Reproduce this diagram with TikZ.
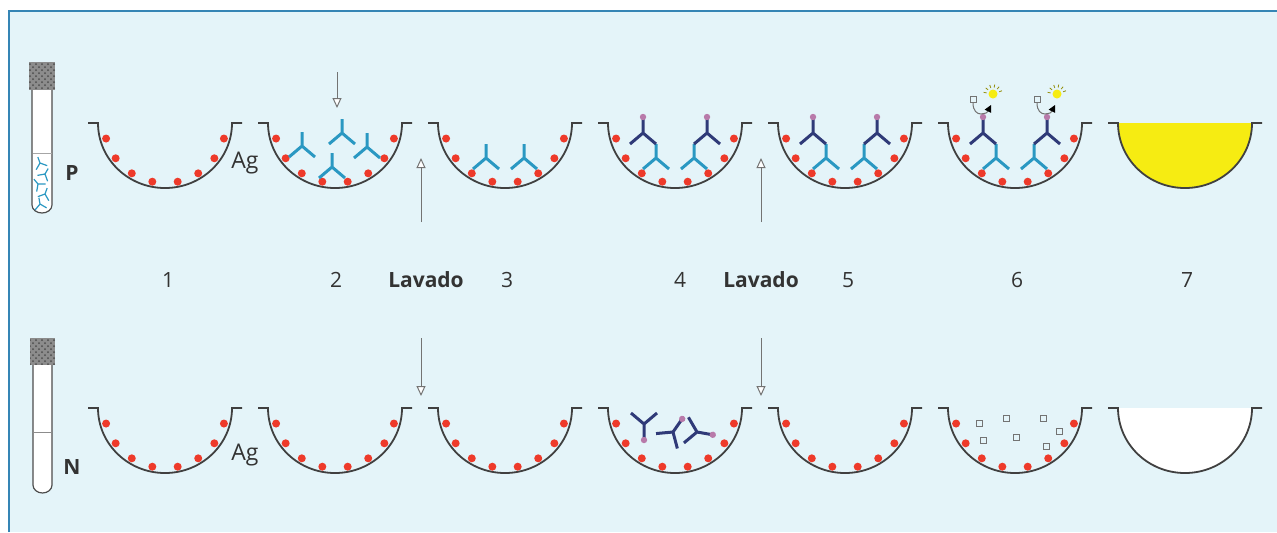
\documentclass[tikz,border=0pt]{standalone}
\usepackage{fontspec}
\setmainfont{Open Sans}
\usetikzlibrary{arrows.meta,patterns}
\definecolor{panelbg}{HTML}{E4F4F9}
\definecolor{frameblue}{HTML}{3585B5}
\definecolor{agred}{HTML}{EE3A2A}
\definecolor{abteal}{HTML}{2A98C2}
\definecolor{abnavy}{HTML}{2F3A78}
\definecolor{enzpink}{HTML}{B87AAA}
\definecolor{prodyellow}{HTML}{F6EC12}
\definecolor{inkgray}{HTML}{333333}

\tikzset{
  wall/.style={draw=black!75, line width=0.9pt},
  agdot/.style={fill=agred},
  prim/.style={abteal, line width=1.5pt, line join=round},
  sec/.style={abnavy, line width=1.5pt, line join=round},
  flow/.style={black!55, line width=0.5pt, -{Triangle[open,length=5pt,width=4.5pt,fill=white]}},
  tube/.style={draw=black!70, line width=0.6pt},
  sub/.style={draw=black!55, line width=0.5pt},
  lbl/.style={text=inkgray, font=\fontsize{10.5}{12}\selectfont},
  tag/.style={text=inkgray, font=\fontsize{10.5}{12}\selectfont\bfseries},
}

% one well: rim ends plus the round bottom
\newcommand{\wellcup}[3][]{%
  \draw[wall,#1] (#2-77,#3) -- (#2-67,#3)
    arc[start angle=180,end angle=0,x radius=67,y radius=65] -- (#2+77,#3);}
% antibody, fork at (#2,#3), turned by #4
\newcommand{\ab}[4]{%
  \begin{scope}[shift={(#2,#3)},rotate=#4]
    \draw[#1] (0,-14) -- (0,0) -- (-13,11) (0,0) -- (13,11);
  \end{scope}}
% antibody with enzyme on the stem
\newcommand{\conj}[3]{%
  \begin{scope}[shift={(#1,#2)},rotate=#3]
    \draw[sec] (0,-14) -- (0,0) -- (-13,11) (0,0) -- (13,11);
    \fill[enzpink] (0,-16) circle[radius=3.2];
  \end{scope}}
% substrate -> coloured product, placed at the enzyme
\newcommand{\reaction}[2]{%
  \begin{scope}[shift={(#1,#2)}]
    \draw[sub] (-13,-21) rectangle (-7,-15);
    \draw[black!55, line width=0.5pt, -{Triangle[length=3.5pt,width=3.5pt,black]}]
      (-10,-14) .. controls (-10,-6) and (-6,-3) .. (-2,-3)
      .. controls (4,-4) .. (8,-12);
    \fill[prodyellow] (10,-23) circle[radius=4.5];
    \foreach \a in {190,220,...,350}
      \draw[prodyellow!60!black, line width=0.4pt] (10,-23) ++(\a:6.5) -- ++(\a:3);
  \end{scope}}

\begin{document}
\begin{tikzpicture}[x=0.5pt,y=-0.5pt]
  \useasboundingbox (0,0) rectangle (1277,532);
  \fill[panelbg] (9,11) rectangle (1277,532);
  \draw[frameblue, line width=1pt] (9,532) -- (9,11) -- (1277,11);

  % tube P (serum with antibodies)
  \fill[black!45] (29,62) rectangle (55,90);
  \fill[pattern=crosshatch dots, pattern color=black!70] (29,62) rectangle (55,90);
  \draw[tube, fill=white] (32,90) -- (32,205)
    arc[start angle=180,end angle=0,x radius=10,y radius=8] -- (52,90);
  \draw[black!35, line width=0.4pt] (32.5,153) -- (51.5,153);
  \foreach \tx/\ty/\r in {40/163/20, 45/174/-30, 38/184/40, 45/194/-20, 40/204/10}
    \draw[prim, line width=0.6pt, shift={(\tx,\ty)}, rotate=\r, scale=0.45]
      (0,-14) -- (0,0) -- (-13,11) (0,0) -- (13,11);
  \node[tag] (pos) at (72,173) {P};

  % tube N
  \fill[black!45] (30,338) rectangle (55,365);
  \fill[pattern=crosshatch dots, pattern color=black!70] (30,338) rectangle (55,365);
  \draw[tube, fill=white] (33,365) -- (33,485)
    arc[start angle=180,end angle=0,x radius=9.5,y radius=8] -- (52,365);
  \draw[black!45, line width=0.4pt] (33,432) -- (52,432);
  \node[tag] (neg) at (72,467) {N};

  % wells 1-6, both rows, with antigen
  \foreach \cx in {165,335,505,675,845,1015}
    \foreach \ry in {123,408} {
      \wellcup{\cx}{\ry}
      \foreach \a in {15,36,57,78,102,123,144,165}
        \fill[agdot] (\cx,\ry) ++(\a:61 and 60) circle[radius=4];
    }
  % well 7
  \wellcup[fill=prodyellow]{1185}{123}
  \wellcup[fill=white]{1185}{408}

  \node[lbl, font=\fontsize{11.5}{13}\selectfont] (agtop) at (245,163) {Ag};
  \node[lbl, font=\fontsize{11.5}{13}\selectfont] (agbot) at (245,455) {Ag};

  % well 2: serum added
  \ab{prim}{342}{133}{0}
  \ab{prim}{302}{146}{0}
  \ab{prim}{367}{147}{0}
  \ab{prim}{332}{167}{0}

  % bound antibodies, wells 3-6
  \foreach \cx in {505,675,845,1015} {
    \ab{prim}{\cx-19}{158}{0}
    \ab{prim}{\cx+19}{158}{0}
  }
  \foreach \cx in {675,845,1015} {
    \conj{\cx-32}{133}{0}
    \conj{\cx+32}{133}{0}
  }
  \reaction{983}{117}
  \reaction{1047}{117}

  % negative row: free conjugate, then substrate only
  \conj{644}{424}{180}
  \conj{673}{432}{-35}
  \conj{697}{432}{-100}
  \foreach \sx/\sy in {979/423, 1006/418, 1043/418, 1059/431, 983/440, 1016/437, 1046/446}
    \draw[sub] (\sx-3,\sy-3) rectangle (\sx+3,\sy+3);

  % additions and washes
  \coordinate (add2a) at (337,72);   \coordinate (add2b) at (337,108);
  \coordinate (wA1) at (421,222);    \coordinate (wA2) at (421,158);
  \coordinate (wB1) at (761,222);    \coordinate (wB2) at (761,158);
  \coordinate (wC1) at (421,338);    \coordinate (wC2) at (421,396);
  \coordinate (wD1) at (761,338);    \coordinate (wD2) at (761,396);
  \draw[flow] (add2a) -- (add2b);
  \draw[flow] (wA1) -- (wA2);
  \draw[flow] (wB1) -- (wB2);
  \draw[flow] (wC1) -- (wC2);
  \draw[flow] (wD1) -- (wD2);

  % step numbers
  \foreach \x/\t in {168/1, 336/2, 507/3, 680/4, 848/5, 1017/6, 1187/7}
    \node[lbl] (step\t) at (\x,280) {\t};
  \node[tag] (wash1) at (426,280) {Lavado};
  \node[tag] (wash2) at (761,280) {Lavado};
\end{tikzpicture}
\end{document}
